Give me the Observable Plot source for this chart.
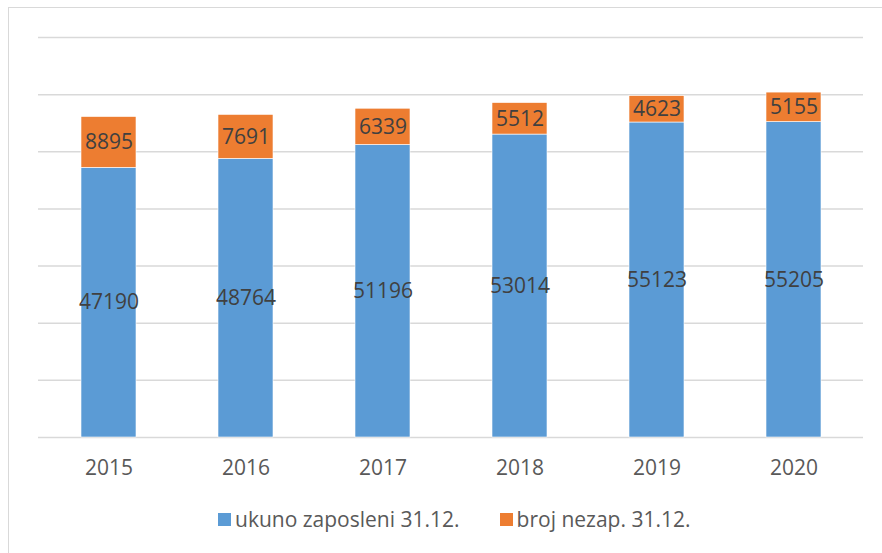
<!DOCTYPE html>
<html>
<head>
<meta charset="utf-8">
<script src="https://cdn.jsdelivr.net/npm/d3@7"></script>
<script src="https://cdn.jsdelivr.net/npm/@observablehq/plot@0.6"></script>
<style>
  html, body { margin: 0; padding: 0; background: #fff; overflow: hidden; width: 882px; height: 553px; }
  #wrap { position: relative; width: 882px; height: 553px; font-family: "Open Sans", "Liberation Sans", sans-serif; }
  #frame { position: absolute; left: 8px; top: 7px; width: 900px; height: 600px; border: 1.5px solid #d9d9d9; box-sizing: border-box; }
  #chart { position: absolute; left: 0; top: 0; }
  #legend { position: absolute; left: 218px; top: 505px; display: flex; align-items: center; font-size: 21px; color: #595959; white-space: nowrap; }
  .sw { display: inline-block; width: 13px; height: 13px; margin-right: 4px; }
  .item { display: flex; align-items: center; }
</style>
</head>
<body>
<div id="wrap">
  <div id="frame"></div>
  <div id="chart"></div>
  <div id="legend"></div>
</div>
<script>
const years = ["2015", "2016", "2017", "2018", "2019", "2020"];
const employed = [47190, 48764, 51196, 53014, 55123, 55205];
const unemployed = [8895, 7691, 6339, 5512, 4623, 5155];
const seriesNames = ["ukuno zaposleni 31.12.", "broj nezap. 31.12."];
const seriesColors = ["#5B9BD5", "#ED7D31"];
const yTicks = [0, 10000, 20000, 30000, 40000, 50000, 60000, 70000];

const data = [];
years.forEach((y, i) => {
  data.push({year: y, series: seriesNames[0], value: employed[i]});
  data.push({year: y, series: seriesNames[1], value: unemployed[i]});
});

const plot = Plot.plot({
  width: 882,
  height: 490,
  marginLeft: 38,
  marginRight: 19,
  marginTop: 37,
  marginBottom: 53,
  style: {fontFamily: '"Open Sans", "Liberation Sans", sans-serif', background: "transparent"},
  x: {domain: years, paddingInner: 0.6, paddingOuter: 0.3, label: null},
  y: {domain: [0, 70000], ticks: yTicks, label: null, axis: null},
  color: {domain: seriesNames, range: seriesColors},
  marks: [
    Plot.ruleY(yTicks, {stroke: "#d9d9d9", strokeWidth: 1.5}),
    Plot.barY(data, Plot.stackY({x: "year", y: "value", z: "series", fill: "series", order: seriesNames, stroke: "#ffffff", strokeWidth: 0.6})),
    Plot.text(data, Plot.stackY({x: "year", y: "value", z: "series", order: seriesNames, text: d => String(d.value), fill: "#404040", fontSize: 21})),
    Plot.axisX({tickSize: 0, tickPadding: 23, fontSize: 21, color: "#595959", label: null})
  ]
});
document.getElementById("chart").appendChild(plot);

const legend = document.getElementById("legend");
seriesNames.forEach((name, i) => {
  const item = document.createElement("span");
  item.className = "item";
  if (i > 0) item.style.marginLeft = "40px";
  const sw = document.createElement("span");
  sw.className = "sw";
  sw.style.background = seriesColors[i];
  item.appendChild(sw);
  item.appendChild(document.createTextNode(name));
  legend.appendChild(item);
});
</script>
</body>
</html>
